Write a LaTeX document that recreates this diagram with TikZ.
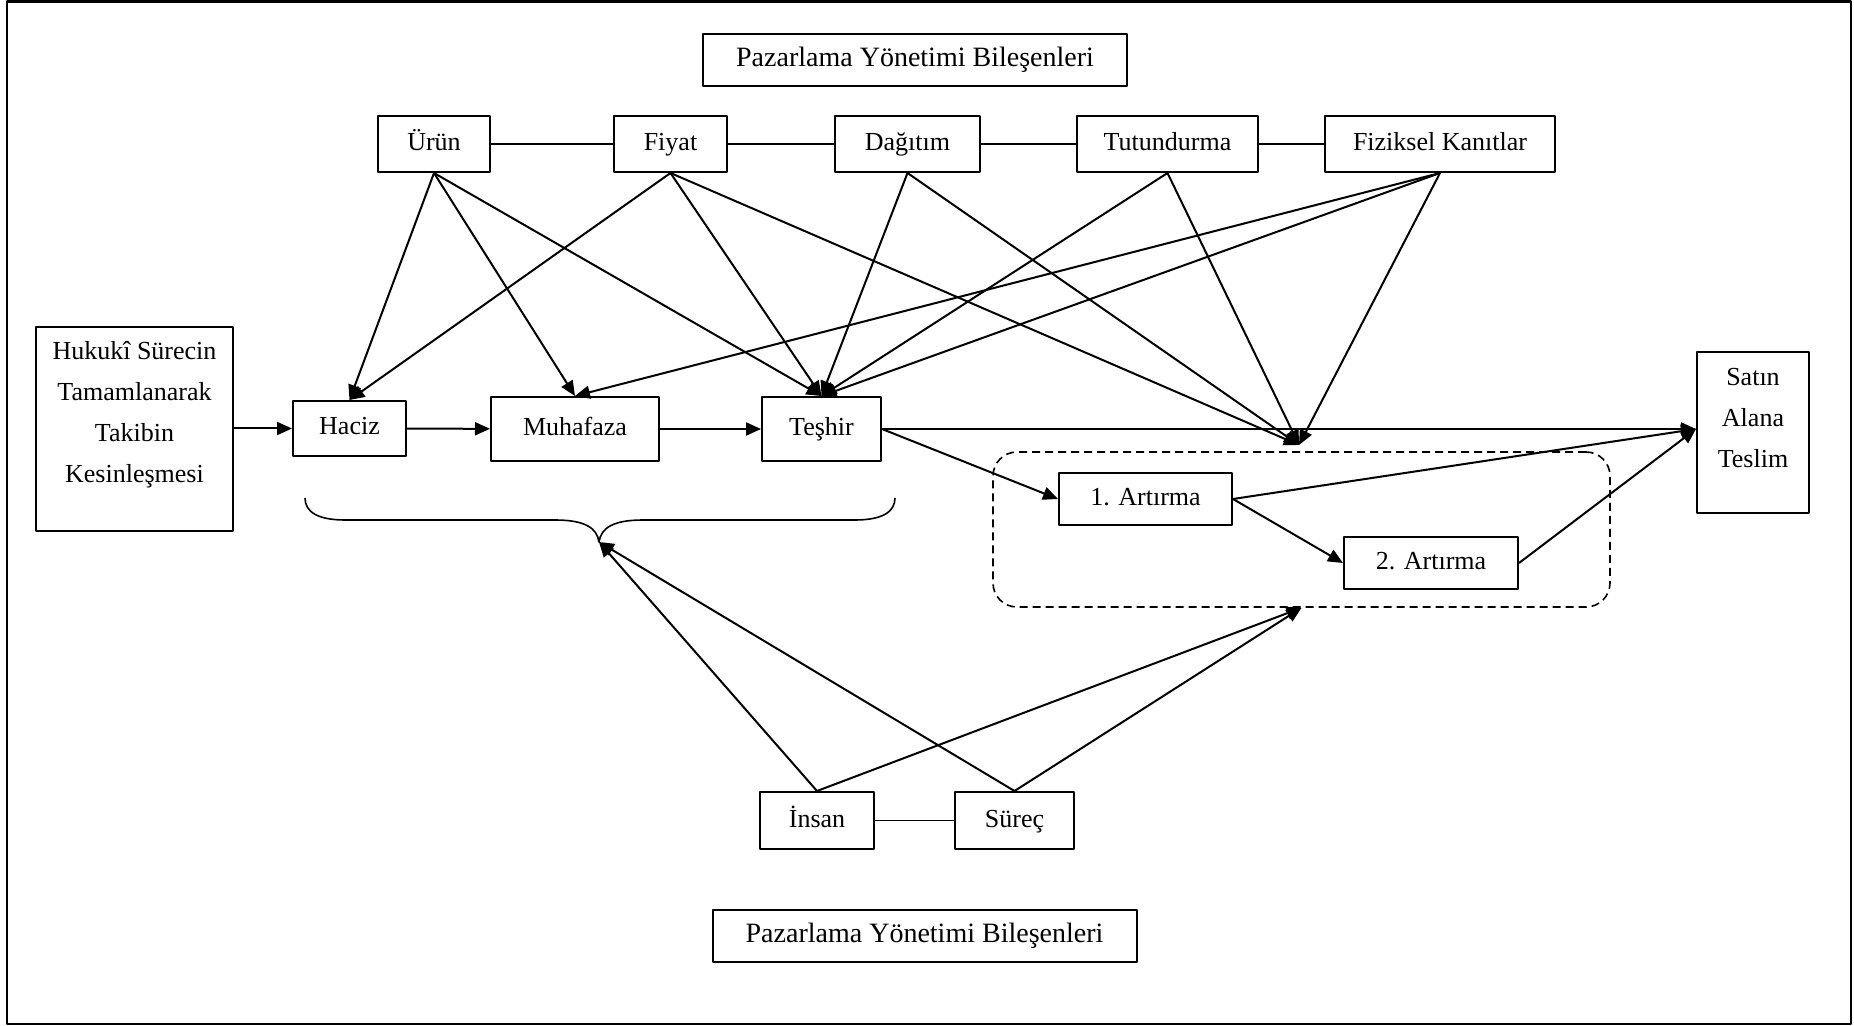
\documentclass[tikz,border=0pt]{standalone}
\usepackage{fontspec}
\setmainfont{Liberation Serif}
\usetikzlibrary{arrows.meta}
\begin{document}
\begin{tikzpicture}[x=0.5pt, y=-0.5pt, line join = round, >={Triangle[length=7.5pt,width=6.5pt]}]
	\tikzset{box style/.style={draw, line width=1pt, inner sep=0pt, text height=9pt, text depth=2.5pt, font=\fontsize{13}{16}\selectfont},
		title style/.style={box style, font=\fontsize{14}{17}\selectfont, minimum width=212pt, minimum height=26pt},
		arrow style/.style={->, line width=1pt},
		link style/.style={line width=0.8pt}}
	\useasboundingbox (0,0) rectangle (1854,1026);
	\draw[line width=1.2pt] (7,1.5) rectangle (1851,1024);
	% ust bilesenler
	\node[title style] (ustbaslik) at (915,60) {Pazarlama Yönetimi Bileşenleri};
	\node[box style, minimum width=56pt, minimum height=28pt] (urun) at (434,144) {Ürün};
	\node[box style, minimum width=56.5pt, minimum height=28pt] (fiyat) at (670.5,144) {Fiyat};
	\node[box style, minimum width=72.5pt, minimum height=28pt] (dagitim) at (907.5,144) {Dağıtım};
	\node[box style, minimum width=90.5pt, minimum height=28pt] (tutundurma) at (1167.5,144) {Tutundurma};
	\node[box style, minimum width=115pt, minimum height=28pt] (fiziksel) at (1440,144) {Fiziksel Kanıtlar};
	\draw[link style] (urun)--(fiyat) (fiyat)--(dagitim) (dagitim)--(tutundurma) (tutundurma)--(fiziksel);
	% surec
	\node[draw, line width=1pt, minimum width=98.5pt, minimum height=102pt] (hukuki) at (134.5,429) {};
	\node[align=center, font=\fontsize{13}{20.5}\selectfont] (hukukimetin) at ([yshift=7pt]hukuki.center) {Hukukî Sürecin\\Tamamlanarak\\Takibin\\Kesinleşmesi};
	\node[box style, minimum width=56.5pt, minimum height=27.5pt] (haciz) at (349.5,428.5) {Haciz};
	\node[box style, minimum width=84pt, minimum height=32pt] (muhafaza) at (575,429) {Muhafaza};
	\node[box style, minimum width=59.5pt, minimum height=32pt] (teshir) at (821.5,429) {Teşhir};
	\node[draw, line width=1pt, minimum width=56pt, minimum height=80.5pt] (satin) at (1753,432.5) {};
	\node[align=center, font=\fontsize{13}{20.5}\selectfont] (satinmetin) at ([yshift=7pt]satin.center) {Satın\\Alana\\Teslim};
	\node[draw, dashed, dash pattern=on 4pt off 2.5pt, line width=0.8pt, rounded corners=12pt, minimum width=308.5pt, minimum height=77.5pt] (artirmalar) at (1301.5,529.5) {};
	\node[box style, minimum width=86.5pt, minimum height=26pt] (artirma1) at (1145.5,499) {1. Artırma};
	\node[box style, minimum width=87pt, minimum height=26pt] (artirma2) at (1431,563) {2. Artırma};
	\coordinate (ustnokta) at (1299,445);
	\coordinate (satingiris) at (satin.west |- teshir.east);
	% alt bilesenler
	\node[box style, minimum width=57pt, minimum height=28.5pt] (insan) at (817,820.5) {İnsan};
	\node[box style, minimum width=59.5pt, minimum height=28.5pt] (surec) at (1014.5,820.5) {Süreç};
	\node[title style] (altbaslik) at (924.5,936) {Pazarlama Yönetimi Bileşenleri};
	\draw[link style] (insan)--(surec);
	% kume parantezi
	\draw[line width=0.8pt] (305,498) .. controls (305,512) and (318,520) .. (345,520) --(555,520) .. controls (585,520) and (597,528) .. (599,542) .. controls (601,528) and (613,520) .. (643,520) --(855,520) .. controls (882,520) and (895,512) .. (895,498);
	\coordinate (parantezucu) at (599,542);
	% oklar
	\draw[arrow style] (hukuki.east |- haciz.west)--(haciz.west);
	\draw[arrow style] (haciz)--(muhafaza);
	\draw[arrow style] (muhafaza)--(teshir);
	\draw[arrow style] (teshir.east)--(satingiris);
	\draw[arrow style] (teshir.east)--(artirma1.west);
	\draw[arrow style] (artirma1.east)--(satingiris);
	\draw[arrow style] (artirma1.east)--(artirma2.west);
	\draw[arrow style] (artirma2.east)--(satingiris);
	\draw[arrow style] (urun.south)--(haciz.north);
	\draw[arrow style] (urun.south)--(muhafaza.north);
	\draw[arrow style] (urun.south)--(teshir.north);
	\draw[arrow style] (fiyat.south)--(haciz.north);
	\draw[arrow style] (fiyat.south)--(teshir.north);
	\draw[arrow style] (fiyat.south)--(ustnokta);
	\draw[arrow style] (dagitim.south)--(teshir.north);
	\draw[arrow style] (dagitim.south)--(ustnokta);
	\draw[arrow style] (tutundurma.south)--(teshir.north);
	\draw[arrow style] (tutundurma.south)--(ustnokta);
	\draw[arrow style] (fiziksel.south)--(muhafaza.north);
	\draw[arrow style] (fiziksel.south)--(teshir.north);
	\draw[arrow style] (fiziksel.south)--(ustnokta);
	\draw[arrow style] (insan.north)--(parantezucu);
	\draw[arrow style] (insan.north)--(artirmalar.south);
	\draw[arrow style] (surec.north)--(parantezucu);
	\draw[arrow style] (surec.north)--(artirmalar.south);
\end{tikzpicture}
\end{document}
